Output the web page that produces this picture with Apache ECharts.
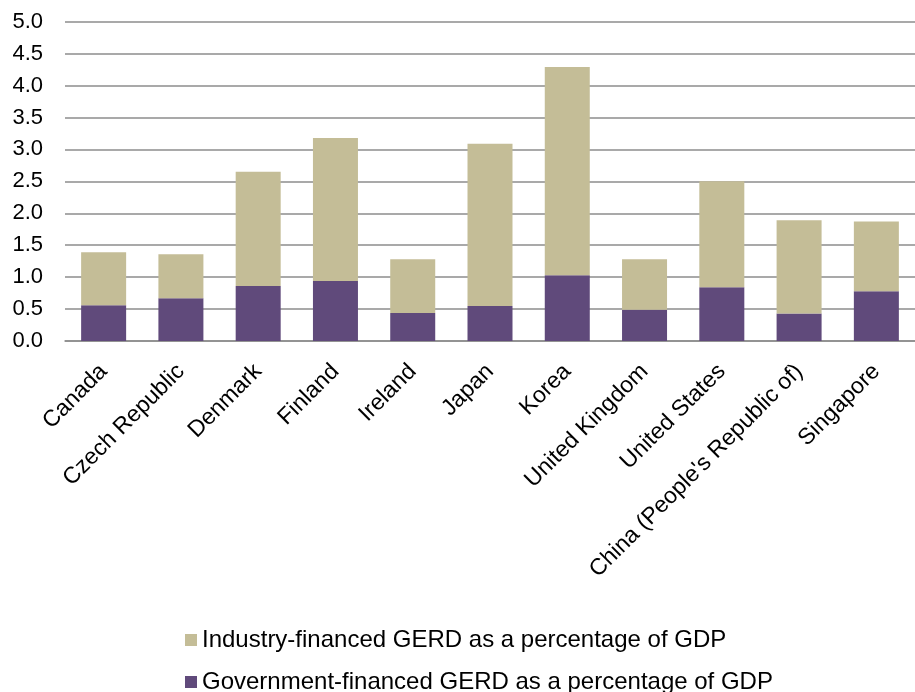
<!DOCTYPE html>
<html>
<head>
<meta charset="utf-8">
<script src="https://cdn.jsdelivr.net/npm/echarts@6/dist/echarts.min.js"></script>
<style>html,body{margin:0;padding:0;background:#fff;}#chart{width:915px;height:692px;}</style>
</head>
<body>
<div id="chart"></div>
<script>
const categories = ['Canada','Czech Republic','Denmark','Finland','Ireland','Japan','Korea','United Kingdom','United States',"China (People's Republic of)",'Singapore'];
const governmentFinanced = [0.56,0.67,0.86,0.94,0.44,0.55,1.03,0.49,0.84,0.43,0.78];
const industryFinanced = [0.83,0.69,1.79,2.24,0.84,2.54,3.26,0.79,1.66,1.46,1.09];
const yTicks = [0,0.5,1,1.5,2,2.5,3,3.5,4,4.5,5];
const seriesNames = ['Industry-financed GERD as a percentage of GDP','Government-financed GERD as a percentage of GDP'];

const font = 'Liberation Sans, Arial, sans-serif';
const legendText = {fontSize:24, color:'#000', fontFamily:font};
const chart = echarts.init(document.getElementById('chart'), null, {renderer:'canvas'});
chart.setOption({
  animation:false,
  textStyle:{fontFamily:font},
  grid:{left:65, top:21.7, width:860, height:319.3, containLabel:false},
  legend:[
    {data:[seriesNames[0]], left:180, top:623, itemWidth:12, itemHeight:12, icon:'rect', textStyle:legendText},
    {data:[seriesNames[1]], left:180, top:665, itemWidth:12, itemHeight:12, icon:'rect', textStyle:legendText}
  ],
  xAxis:{
    type:'category',
    data:categories,
    axisLine:{show:true, lineStyle:{color:'#8c8c8c', width:1.5}},
    axisTick:{show:false},
    axisLabel:{rotate:45, fontSize:23, color:'#000', fontFamily:font, margin:27, interval:0}
  },
  yAxis:{
    type:'value',
    min:yTicks[0], max:yTicks[yTicks.length-1], interval:0.5,
    axisLine:{show:false},
    axisTick:{show:false},
    splitLine:{lineStyle:{color:'#8c8c8c', width:1.5}},
    axisLabel:{fontSize:22, color:'#000', fontFamily:font, margin:22, formatter:v=>v.toFixed(1)}
  },
  series:[
    {name:seriesNames[1], type:'bar', stack:'gerd', data:governmentFinanced, barWidth:45,
     itemStyle:{color:'#604A7B'}},
    {name:seriesNames[0], type:'bar', stack:'gerd', data:industryFinanced, barWidth:45,
     itemStyle:{color:'#C4BD97'}}
  ]
});
</script>
</body>
</html>
